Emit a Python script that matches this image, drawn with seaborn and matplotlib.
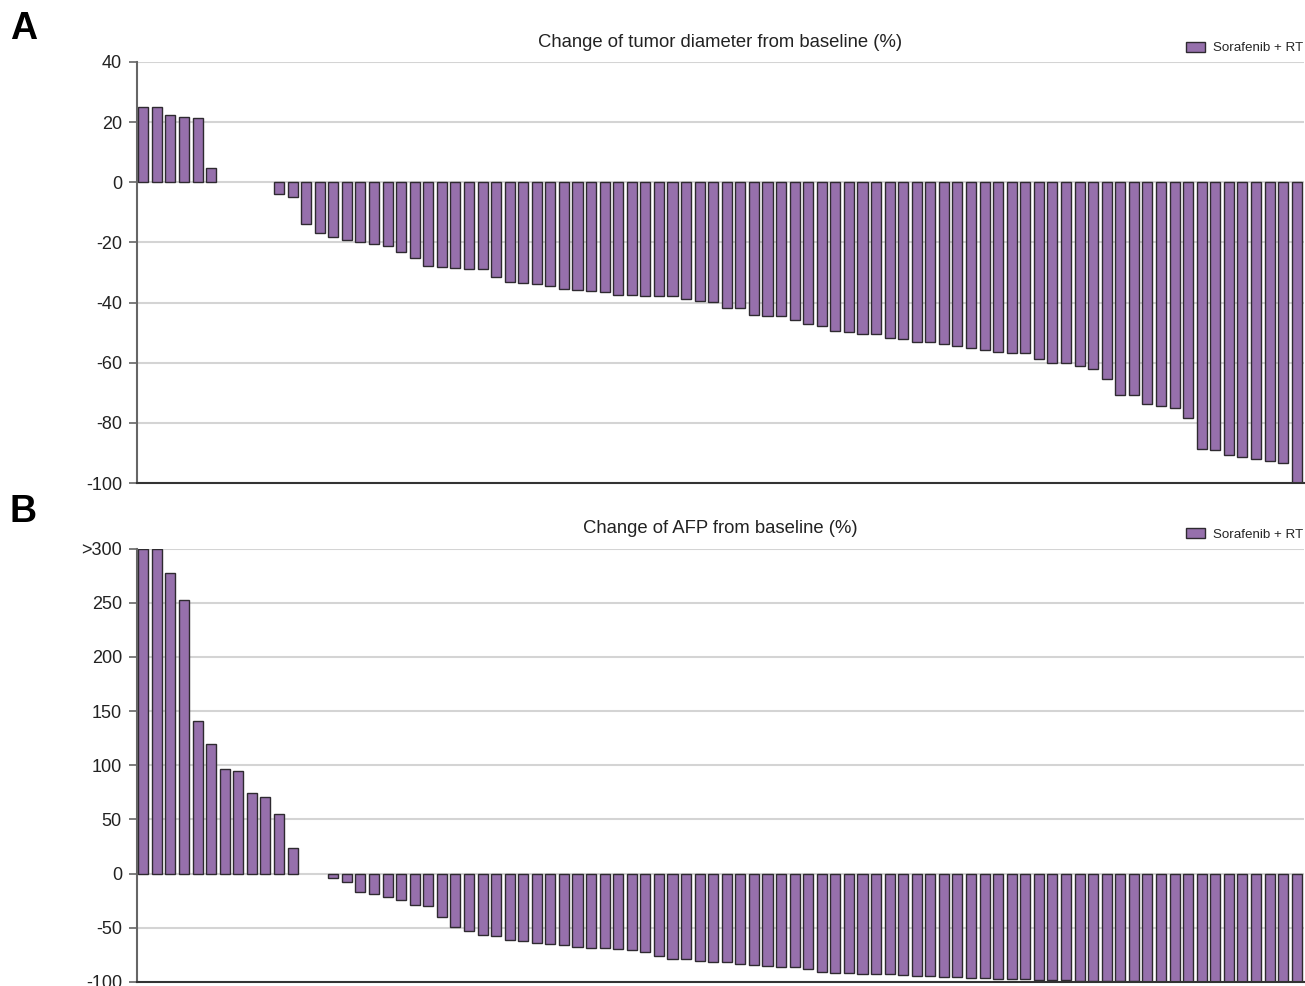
import numpy as np
import pandas as pd
import matplotlib
matplotlib.use("Agg")
import matplotlib.pyplot as plt
import seaborn as sns

# Waterfall data: one bar per patient, sorted from best increase to deepest decrease
tumor_change = [25, 25, 22.5, 21.8, 21.5, 4.7, 0, 0, 0, 0,
                -3.8, -4.8, -14.0, -17.0, -18.3, -19.2, -20.0, -20.5, -21.1, -23.2,
                -25.2, -27.9, -28.2, -28.4, -28.7, -28.8, -31.5, -33.2, -33.5, -33.9,
                -34.4, -35.4, -35.9, -36.2, -36.4, -37.6, -37.6, -37.7, -37.7, -37.7,
                -38.9, -39.6, -39.8, -41.7, -41.8, -44.2, -44.3, -44.6, -45.7, -47.1,
                -47.9, -49.4, -49.7, -50.5, -50.6, -51.9, -52.0, -53.0, -53.1, -53.9,
                -54.3, -55.0, -55.7, -56.4, -56.7, -56.8, -58.9, -60.2, -60.2, -61.1,
                -62.2, -65.5, -70.7, -70.8, -73.7, -74.5, -75.2, -78.5, -88.6, -88.9,
                -90.6, -91.3, -92.1, -92.6, -93.5, -100]

afp_change = [300, 300, 277, 252.8, 140.8, 119.3, 96.5, 95.0, 74.4, 70.7,
              54.7, 23.3, 0, 0, -4.3, -8.0, -17.3, -19.1, -21.9, -24.4,
              -29.3, -30.2, -40.4, -49.1, -53.4, -56.5, -57.4, -61.1, -61.8, -64.2,
              -64.8, -65.7, -67.6, -68.2, -68.8, -69.8, -70.7, -72.3, -76.3, -78.8,
              -78.8, -80.6, -81.5, -81.5, -83.7, -84.3, -84.9, -85.8, -86.1, -87.7,
              -91.1, -91.4, -92.0, -92.3, -92.9, -93.0, -93.8, -94.4, -94.4, -95.0,
              -95.0, -96.3, -96.6, -97.2, -97.5, -97.5, -98.1, -98.4, -98.4, -98.8,
              -99.1, -99.4, -99.4, -99.4, -99.7, -100, -100, -100, -100, -100,
              -100, -100, -100, -100, -100, -100]

group_name = "Sorafenib + RT"

tumor_ticks = [40, 20, 0, -20, -40, -60, -80, -100]
tumor_ticklabels = ["40", "20", "0", "-20", "-40", "-60", "-80", "-100"]
afp_ticks = [300, 250, 200, 150, 100, 50, 0, -50, -100]
afp_ticklabels = [">300", "250", "200", "150", "100", "50", "0", "-50", "-100"]

titles = ["Change of tumor diameter from baseline (%)", "Change of AFP from baseline (%)"]
panel_letters = ["A", "B"]

bar_color = "#9670AC"
edge_color = "#2e2a30"

sns.set_theme(style="white")
plt.rcParams["font.family"] = ["Liberation Sans", "DejaVu Sans"]
plt.rcParams["axes.unicode_minus"] = False

fig = plt.figure(figsize=(13.05, 9.86), dpi=100)
W, H = 1305, 986
left, right = 136.5 / W, 1303.5 / W
ax_a = fig.add_axes([left, 1 - 483 / H, right - left, (483 - 62) / H])
ax_b = fig.add_axes([left, 1 - 982 / H, right - left, (982 - 548.5) / H])


def waterfall(ax, values, ticks, ticklabels, title):
    df = pd.DataFrame({
        "patient": np.arange(len(values)),
        "change": values,
        "group": group_name,
    })
    sns.barplot(data=df, x="patient", y="change", hue="group",
                palette={group_name: bar_color}, saturation=1, width=0.74,
                edgecolor=edge_color, linewidth=1.0, errorbar=None,
                ax=ax)
    # zero-height bars carry no outline
    for p in ax.patches:
        if p.get_height() == 0:
            p.set_linewidth(0)
    ax.set_xlim(-0.5, len(values) - 0.5)
    ax.set_ylim(ticks[-1], ticks[0])
    ax.set_yticks(ticks)
    ax.set_yticklabels(ticklabels)
    ax.set_xticks([])
    ax.set_xlabel("")
    ax.set_ylabel("")
    ax.set_axisbelow(True)
    ax.yaxis.grid(True, color="#d4d4d4", linewidth=1.5)
    ax.xaxis.grid(False)
    for side in ("top", "right"):
        ax.spines[side].set_visible(False)
    ax.spines["left"].set_color("#666666")
    ax.spines["left"].set_linewidth(1.5)
    ax.spines["bottom"].set_color("#333333")
    ax.spines["bottom"].set_linewidth(1.5)
    ax.tick_params(axis="y", which="major", left=True, direction="out",
                   length=6, width=1.2, color="#666666",
                   labelsize=13, labelcolor="#222222", pad=4.5)
    ax.set_title(title, fontsize=13.3, color="#222222", pad=11)
    handles, labels = ax.get_legend_handles_labels()
    for h in handles:
        h.set_edgecolor(edge_color)
        h.set_linewidth(1.0)
        h.set_facecolor(bar_color)
    ax.legend(handles, labels, loc="center right",
              bbox_to_anchor=(1.0, 1.0 + 14 / (ax.bbox.height)),
              frameon=False, fontsize=9.6, handlelength=1.45, handleheight=0.75,
              handletextpad=0.6, borderpad=0, borderaxespad=0)


waterfall(ax_a, tumor_change, tumor_ticks, tumor_ticklabels, titles[0])
waterfall(ax_b, afp_change, afp_ticks, afp_ticklabels, titles[1])

fig.text(10 / W, 1 - 29 / H, panel_letters[0], fontsize=27, fontweight="bold",
         va="center", ha="left", color="black")
fig.text(10 / W, 1 - 512 / H, panel_letters[1], fontsize=27, fontweight="bold",
         va="center", ha="left", color="black")

fig.savefig("out.png", dpi=100)
